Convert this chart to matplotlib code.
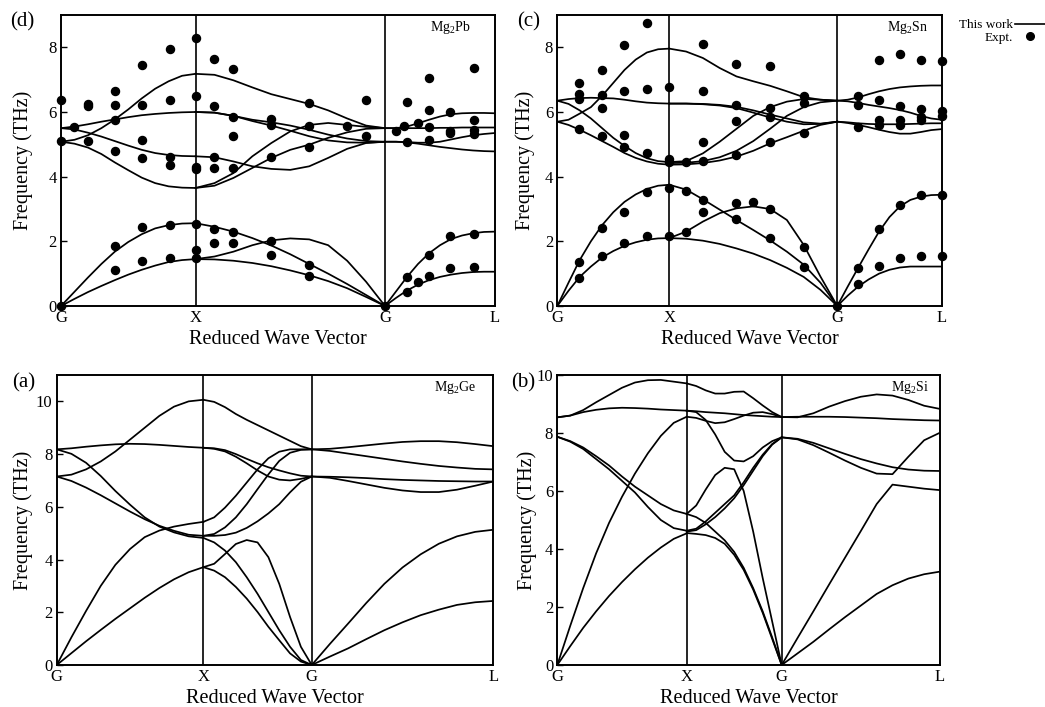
import numpy as np
import matplotlib.pyplot as plt
from matplotlib.lines import Line2D

plt.rcParams['font.family'] = ['Liberation Serif', 'DejaVu Serif']
plt.rcParams['mathtext.default'] = 'regular'

# sample grid along each path segment (fraction of the segment)
t = np.linspace(0, 1, 11)
kpt_labels = ['G', 'X', 'G', 'L']

# ---------------- (d) Mg2Pb ----------------
pb_seg = [134.5, 189.5, 110]          # relative lengths G-X, X-G, G-L
pb_gx = [
    [5.08, 5.14, 5.28, 5.5, 5.77, 6.08, 6.42, 6.72, 6.95, 7.12, 7.18],
    [5.5, 5.55, 5.62, 5.7, 5.77, 5.84, 5.9, 5.94, 5.97, 5.99, 6.0],
    [5.5, 5.46, 5.36, 5.24, 5.1, 4.96, 4.83, 4.73, 4.67, 4.64, 4.63],
    [5.08, 5.02, 4.9, 4.7, 4.44, 4.2, 3.97, 3.8, 3.7, 3.66, 3.65],
    [0, 0.44, 0.88, 1.3, 1.68, 1.98, 2.22, 2.4, 2.5, 2.55, 2.56],
    [0, 0.22, 0.43, 0.62, 0.8, 0.97, 1.12, 1.25, 1.36, 1.42, 1.45],
]
pb_xg = [
    [7.18, 7.15, 6.98, 6.76, 6.55, 6.4, 6.25, 6.05, 5.8, 5.58, 5.5],
    [6.0, 5.98, 5.88, 5.76, 5.68, 5.58, 5.45, 5.3, 5.18, 5.1, 5.08],
    [6.0, 5.98, 5.88, 5.72, 5.58, 5.42, 5.25, 5.12, 5.06, 5.05, 5.08],
    [3.65, 3.8, 4.11, 4.63, 5.04, 5.4, 5.6, 5.66, 5.6, 5.54, 5.5],
    [3.65, 3.72, 3.96, 4.27, 4.58, 4.83, 4.99, 5.2, 5.37, 5.48, 5.5],
    [4.63, 4.6, 4.47, 4.32, 4.24, 4.21, 4.32, 4.58, 4.86, 5.04, 5.08],
    [2.56, 2.45, 2.3, 2.1, 1.87, 1.6, 1.3, 1.0, 0.68, 0.34, 0],
    [1.45, 1.53, 1.68, 1.88, 2.03, 2.09, 2.06, 1.88, 1.4, 0.75, 0],
    [1.45, 1.44, 1.4, 1.33, 1.23, 1.1, 0.95, 0.77, 0.55, 0.28, 0],
]
pb_gl = [
    [5.5, 5.5, 5.55, 5.65, 5.76, 5.86, 5.93, 5.96, 5.97, 5.97, 5.96],
    [5.5, 5.5, 5.5, 5.5, 5.5, 5.51, 5.51, 5.52, 5.52, 5.52, 5.52],
    [5.08, 5.08, 5.06, 5.02, 4.97, 4.92, 4.88, 4.84, 4.81, 4.79, 4.78],
    [5.08, 5.08, 5.07, 5.05, 5.05, 5.08, 5.15, 5.22, 5.28, 5.32, 5.35],
    [0, 0.45, 0.9, 1.3, 1.63, 1.88, 2.07, 2.18, 2.25, 2.29, 2.3],
    [0, 0.25, 0.48, 0.66, 0.8, 0.9, 0.97, 1.02, 1.05, 1.06, 1.06],
]
# experimental points: path position (0=G, 1=X, 2=G, 3=L) and frequency
pb_exp_s = [0, 0, 0, 0.1, 0.2, 0.2, 0.2, 0.4, 0.4, 0.4, 0.4, 0.4, 0.4,
            0.6, 0.6, 0.6, 0.6, 0.6, 0.6, 0.81, 0.81, 0.81, 0.81, 0.81, 0.81,
            1, 1, 1, 1, 1, 1, 1,
            1.1, 1.1, 1.1, 1.1, 1.1, 1.1, 1.2, 1.2, 1.2, 1.2, 1.2, 1.2,
            1.4, 1.4, 1.4, 1.4, 1.4, 1.6, 1.6, 1.6, 1.6, 1.6, 1.8, 1.9, 1.9, 2.0,
            2.1, 2.17, 2.2, 2.2, 2.3, 2.4, 2.4, 2.4, 2.4, 2.59, 2.59, 2.59,
            2.81, 2.81, 2.81, 2.81,
            2.2, 2.2, 2.3, 2.4, 2.4, 2.59, 2.59, 2.81, 2.81]
pb_exp_f = [6.38, 5.09, 0, 5.55, 6.24, 6.2, 5.09, 6.64, 6.22, 5.76, 4.78, 1.84, 1.11,
            7.46, 6.22, 5.12, 4.57, 2.43, 1.40, 7.96, 6.38, 4.62, 4.37, 2.49, 1.48,
            8.29, 6.48, 4.31, 4.23, 2.53, 1.73, 1.48,
            7.64, 6.19, 4.62, 4.26, 2.37, 1.96, 7.34, 5.86, 5.27, 4.26, 2.28, 1.96,
            5.79, 5.6, 4.62, 2.02, 1.58, 6.27, 5.57, 4.93, 1.27, 0.93, 5.57, 6.38, 5.27, 0,
            5.40, 5.57, 6.30, 5.06, 5.66, 5.55, 6.07, 7.05, 5.14, 5.99, 5.42, 5.35,
            7.36, 5.76, 5.45, 5.32,
            0.91, 0.44, 0.75, 1.58, 0.93, 2.17, 1.17, 2.22, 1.22]

# ---------------- (c) Mg2Sn ----------------
sn_seg = [112, 168, 104.4]
sn_gx = [
    [5.7, 5.76, 5.95, 6.15, 6.5, 6.9, 7.3, 7.62, 7.84, 7.94, 7.96],
    [6.35, 6.4, 6.43, 6.44, 6.43, 6.42, 6.38, 6.33, 6.29, 6.27, 6.26],
    [6.35, 6.25, 6.05, 5.8, 5.5, 5.2, 4.95, 4.73, 4.57, 4.48, 4.45],
    [5.7, 5.6, 5.45, 5.28, 5.1, 4.92, 4.73, 4.58, 4.47, 4.4, 4.37],
    [0, 0.72, 1.42, 2.0, 2.5, 2.9, 3.22, 3.45, 3.62, 3.72, 3.75],
    [0, 0.47, 0.9, 1.22, 1.5, 1.7, 1.86, 1.97, 2.05, 2.09, 2.1],
]
sn_xg = [
    [7.96, 7.87, 7.67, 7.36, 7.1, 6.95, 6.81, 6.64, 6.46, 6.38, 6.35],
    [6.26, 6.26, 6.25, 6.22, 6.16, 6.05, 5.92, 5.8, 5.68, 5.64, 5.7],
    [6.26, 6.26, 6.24, 6.2, 6.12, 5.98, 5.83, 5.7, 5.62, 5.63, 5.7],
    [4.45, 4.48, 4.72, 5.08, 5.48, 5.88, 6.15, 6.32, 6.4, 6.38, 6.35],
    [4.42, 4.43, 4.48, 4.6, 4.8, 5.1, 5.48, 5.88, 6.15, 6.3, 6.35],
    [4.37, 4.38, 4.42, 4.5, 4.62, 4.8, 5.03, 5.22, 5.42, 5.6, 5.7],
    [3.75, 3.6, 3.3, 2.98, 2.66, 2.35, 2.03, 1.68, 1.28, 0.72, 0],
    [2.1, 2.3, 2.61, 2.87, 3.02, 3.08, 3.0, 2.66, 1.89, 0.91, 0],
    [2.1, 2.08, 2.02, 1.92, 1.78, 1.62, 1.42, 1.18, 0.9, 0.5, 0],
]
sn_gl = [
    [6.35, 6.38, 6.45, 6.55, 6.64, 6.71, 6.76, 6.79, 6.81, 6.82, 6.82],
    [6.35, 6.33, 6.28, 6.22, 6.17, 6.12, 6.06, 5.98, 5.88, 5.8, 5.76],
    [5.7, 5.68, 5.65, 5.63, 5.62, 5.62, 5.62, 5.63, 5.64, 5.65, 5.65],
    [5.7, 5.66, 5.6, 5.53, 5.45, 5.38, 5.33, 5.33, 5.38, 5.44, 5.47],
    [0, 0.6, 1.18, 1.75, 2.3, 2.75, 3.08, 3.28, 3.38, 3.43, 3.44],
    [0, 0.32, 0.6, 0.82, 1.0, 1.12, 1.19, 1.22, 1.22, 1.22, 1.22],
]
sn_exp_s = [0.196, 0.196, 0.196, 0.196, 0.196, 0.196,
            0.396, 0.396, 0.396, 0.396, 0.396, 0.396,
            0.598, 0.598, 0.598, 0.598, 0.598, 0.598,
            0.798, 0.798, 0.798, 0.798, 0.798,
            1, 1, 1, 1, 1,
            1.1, 1.1, 1.1, 1.2, 1.2, 1.2, 1.2, 1.2, 1.2,
            1.4, 1.4, 1.4, 1.4, 1.4, 1.5, 1.4,
            1.6, 1.6, 1.6, 1.6, 1.6, 1.6,
            1.8, 1.8, 1.8, 1.8, 1.8, 2.0,
            2.2, 2.2, 2.2, 2.2, 2.2,
            2.4, 2.4, 2.4, 2.4, 2.4, 2.4,
            2.6, 2.6, 2.6, 2.6, 2.6, 2.6,
            2.8, 2.8, 2.8, 2.8, 2.8, 2.8,
            3.0, 3.0, 3.0, 3.0, 3.0]
sn_exp_f = [6.91, 6.56, 6.4, 5.48, 1.37, 0.86,
            7.31, 6.53, 6.12, 5.26, 2.4, 1.55,
            8.08, 6.64, 5.29, 4.93, 2.9, 1.94,
            8.75, 6.71, 4.73, 3.51, 2.17,
            6.76, 4.55, 4.44, 3.64, 2.17,
            4.44, 3.56, 2.3, 8.1, 6.66, 5.07, 4.47, 3.28, 2.92,
            7.48, 6.22, 5.73, 4.67, 3.18, 3.23, 2.68,
            7.41, 6.12, 5.86, 5.06, 2.99, 2.09,
            6.5, 6.27, 5.35, 1.82, 1.22, 0,
            6.5, 6.22, 5.55, 1.17, 0.68,
            7.6, 6.36, 5.76, 5.6, 2.38, 1.25,
            7.8, 6.17, 5.76, 5.6, 3.13, 1.48,
            7.62, 6.1, 5.86, 5.76, 3.43, 1.55,
            7.58, 6.02, 5.88, 3.42, 1.56]

# ---------------- (a) Mg2Ge ----------------
ge_seg = [146.6, 108.4, 181.6]
ge_gx = [
    [7.15, 7.22, 7.42, 7.72, 8.1, 8.55, 9.0, 9.45, 9.8, 10.0, 10.06],
    [8.18, 8.22, 8.28, 8.33, 8.37, 8.39, 8.38, 8.35, 8.31, 8.27, 8.24],
    [7.15, 6.98, 6.73, 6.44, 6.13, 5.82, 5.53, 5.28, 5.09, 4.94, 4.9],
    [8.18, 8.01, 7.67, 7.17, 6.6, 6.08, 5.6, 5.25, 5.03, 4.88, 4.82],
    [0, 1.05, 2.05, 3.0, 3.8, 4.4, 4.85, 5.1, 5.25, 5.35, 5.43],
    [0, 0.45, 0.9, 1.33, 1.75, 2.15, 2.55, 2.92, 3.25, 3.52, 3.71],
]
ge_xg = [
    [10.06, 9.98, 9.78, 9.52, 9.3, 9.1, 8.9, 8.7, 8.5, 8.3, 8.18],
    [8.24, 8.22, 8.15, 8.0, 7.82, 7.65, 7.5, 7.38, 7.27, 7.18, 7.15],
    [8.24, 8.2, 8.1, 7.9, 7.65, 7.38, 7.15, 7.03, 7.0, 7.06, 7.15],
    [5.43, 5.6, 5.97, 6.42, 6.92, 7.42, 7.84, 8.09, 8.18, 8.18, 8.18],
    [4.9, 4.97, 5.22, 5.6, 6.1, 6.67, 7.23, 7.74, 8.05, 8.16, 8.18],
    [4.9, 4.9, 4.93, 5.02, 5.2, 5.45, 5.75, 6.1, 6.55, 6.95, 7.15],
    [3.71, 3.84, 4.21, 4.59, 4.74, 4.65, 4.09, 3.08, 1.82, 0.69, 0],
    [4.82, 4.65, 4.34, 3.9, 3.33, 2.7, 2.01, 1.32, 0.69, 0.19, 0],
    [3.71, 3.58, 3.33, 2.96, 2.52, 2.01, 1.45, 0.94, 0.44, 0.13, 0],
]
ge_gl = [
    [8.18, 8.2, 8.26, 8.33, 8.4, 8.46, 8.49, 8.49, 8.45, 8.38, 8.3],
    [8.18, 8.12, 8.02, 7.92, 7.82, 7.72, 7.63, 7.55, 7.49, 7.44, 7.42],
    [7.15, 7.14, 7.12, 7.09, 7.05, 7.02, 7.0, 6.98, 6.97, 6.96, 6.96],
    [7.15, 7.1, 6.98, 6.85, 6.72, 6.62, 6.56, 6.56, 6.65, 6.8, 6.96],
    [0, 0.8, 1.57, 2.35, 3.08, 3.7, 4.2, 4.6, 4.88, 5.05, 5.13],
    [0, 0.32, 0.63, 0.98, 1.32, 1.62, 1.89, 2.1, 2.28, 2.38, 2.43],
]

# ---------------- (b) Mg2Si ----------------
si_seg = [129.4, 95, 158.3]
si_gx = [
    [8.54, 8.6, 8.79, 9.06, 9.31, 9.56, 9.74, 9.82, 9.83, 9.77, 9.71],
    [8.54, 8.6, 8.72, 8.8, 8.85, 8.87, 8.86, 8.84, 8.81, 8.79, 8.77],
    [0, 1.35, 2.65, 3.85, 4.9, 5.8, 6.6, 7.3, 7.9, 8.35, 8.56],
    [0, 0.65, 1.28, 1.85, 2.38, 2.86, 3.3, 3.7, 4.05, 4.35, 4.54],
    [7.87, 7.72, 7.5, 7.2, 6.88, 6.5, 6.15, 5.85, 5.55, 5.33, 5.21],
    [7.87, 7.7, 7.45, 7.1, 6.75, 6.35, 5.95, 5.45, 5.0, 4.72, 4.63],
]
si_xg = [
    [9.71, 9.62, 9.47, 9.36, 9.36, 9.42, 9.43, 9.2, 8.95, 8.72, 8.55],
    [8.77, 8.75, 8.72, 8.7, 8.68, 8.65, 8.62, 8.6, 8.58, 8.56, 8.55],
    [8.56, 8.52, 8.42, 8.34, 8.37, 8.48, 8.6, 8.7, 8.72, 8.65, 8.55],
    [8.77, 8.72, 8.45, 7.95, 7.35, 7.05, 7.02, 7.2, 7.5, 7.72, 7.85],
    [5.21, 5.5, 6.05, 6.55, 6.8, 6.75, 6.0, 4.6, 3.0, 1.5, 0],
    [5.21, 5.1, 4.9, 4.6, 4.3, 3.9, 3.35, 2.65, 1.85, 0.95, 0],
    [4.55, 4.52, 4.48, 4.38, 4.18, 3.8, 3.28, 2.6, 1.8, 0.9, 0],
    [4.63, 4.7, 4.95, 5.25, 5.55, 5.85, 6.3, 6.8, 7.25, 7.62, 7.85],
    [4.6, 4.65, 4.85, 5.1, 5.4, 5.75, 6.2, 6.7, 7.2, 7.6, 7.85],
]
si_gl = [
    [8.55, 8.54, 8.68, 8.91, 9.1, 9.25, 9.33, 9.29, 9.14, 8.94, 8.83],
    [8.55, 8.56, 8.56, 8.56, 8.55, 8.53, 8.51, 8.48, 8.46, 8.44, 8.43],
    [7.85, 7.8, 7.66, 7.47, 7.28, 7.1, 6.95, 6.82, 6.74, 6.7, 6.69],
    [7.85, 7.78, 7.58, 7.32, 7.05, 6.8, 6.6, 6.58, 7.18, 7.75, 8.01],
    [0, 0.93, 1.85, 2.78, 3.7, 4.62, 5.55, 6.22, 6.15, 6.08, 6.03],
    [0, 0.4, 0.8, 1.23, 1.65, 2.05, 2.45, 2.75, 2.98, 3.13, 3.22],
]

panels = [
    # tag, compound, axes rect, segs, branches, ymax, yticks, exp_s, exp_f,
    # name x, tag pos, ylabel x
    ('(d)', r'Mg$_2$Pb', [0.0584, 0.5672, 0.4153, 0.4116], pb_seg,
     [pb_gx, pb_xg, pb_gl], 9, [0, 2, 4, 6, 8], pb_exp_s, pb_exp_f,
     0.945, (0.033, 0.969), -0.064),
    ('(c)', r'Mg$_2$Sn', [0.5333, 0.5672, 0.3678, 0.4116], sn_seg,
     [sn_gx, sn_xg, sn_gl], 9, [0, 2, 4, 6, 8], sn_exp_s, sn_exp_f,
     0.965, (0.517, 0.969), -0.059),
    ('(a)', r'Mg$_2$Ge', [0.0543, 0.0594, 0.4178, 0.4102], ge_seg,
     [ge_gx, ge_xg, ge_gl], 11, [0, 2, 4, 6, 8, 10], None, None,
     0.96, (0.034, 0.459), -0.055),
    ('(b)', r'Mg$_2$Si', [0.5333, 0.0594, 0.3662, 0.4102], si_seg,
     [si_gx, si_xg, si_gl], 10, [0, 2, 4, 6, 8, 10], None, None,
     0.97, (0.512, 0.459), -0.054),
]

fig = plt.figure(figsize=(10.45, 7.07), dpi=100)

for tag, name, rect, seg, branches, ymax, yticks, es, ef, nx, tpos, ylx in panels:
    ax = fig.add_axes(rect)
    knots = np.concatenate([[0], np.cumsum(seg)])
    for i, seg_branches in enumerate(branches):
        x = knots[i] + t * (knots[i + 1] - knots[i])
        for f in seg_branches:
            ax.plot(x, f, color='k', lw=1.25)
    for xv in knots[1:3]:
        ax.axvline(xv, color='k', lw=1.2)
    if es is not None:
        ex = np.interp(es, [0, 1, 2, 3], knots)
        ax.plot(ex, ef, 'o', color='k', ms=5.8, clip_on=False, zorder=5)
    ax.set_xlim(knots[0], knots[-1])
    ax.set_ylim(0, ymax)
    ax.set_xticks(knots)
    ax.set_xticklabels(kpt_labels)
    ax.set_yticks(yticks)
    ax.tick_params(axis='x', length=0, labelsize=12, pad=3)
    ax.tick_params(axis='y', direction='in', length=4, width=1, labelsize=12, pad=3)
    for sp in ax.spines.values():
        sp.set_linewidth(1.4)
    ax.set_xlabel('Reduced Wave Vector', fontsize=14.5, labelpad=3)
    ax.set_ylabel('Frequency (THz)', fontsize=14.5)
    ax.yaxis.set_label_coords(ylx, 0.5)
    ax.text(nx, 0.985, name, transform=ax.transAxes, ha='right', va='top', fontsize=10)
    fig.text(tpos[0], tpos[1], tag, ha='right', va='center', fontsize=15)

handles = [Line2D([], [], color='k', lw=1.2),
           Line2D([], [], color='k', ls='none', marker='o', ms=5.5)]
fig.legend(handles, ['This work', 'Expt.'], loc='upper right',
           bbox_to_anchor=(1.0, 0.973), frameon=False, markerfirst=False,
           fontsize=9.5, handlelength=2.3, handletextpad=0.1,
           labelspacing=0.02, borderpad=0, borderaxespad=0)

fig.savefig('out.png', dpi=100)
